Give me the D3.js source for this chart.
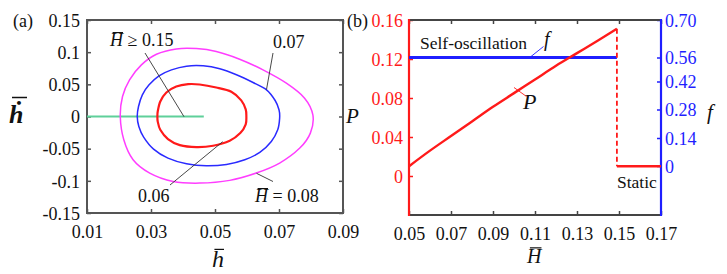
<!DOCTYPE html>
<html>
<head>
<meta charset="utf-8">
<script src="https://cdn.jsdelivr.net/npm/d3@7"></script>
<style>
body { margin: 0; background: #fff; }
</style>
</head>
<body>
<div id="chart"></div>
<script>
// ---- panel (a): phase trajectories [h, hdot] ----
var loop006 = [[0.0320,0],[0.0321,0.0078],[0.0329,0.0233],[0.0348,0.0373],[0.0379,0.0466],[0.0416,0.0503],
  [0.0452,0.0497],[0.0504,0.0450],[0.0551,0.0385],[0.0582,0.0250],[0.0596,0.0110],[0.0598,0],
  [0.0596,-0.0121],[0.0579,-0.0258],[0.0546,-0.0377],[0.0494,-0.0455],[0.0442,-0.0476],[0.0390,-0.0445],
  [0.0353,-0.0351],[0.0329,-0.0207],[0.0321,-0.0077]];
var loop007 = [[0.0257,0],[0.0261,0.0156],[0.0273,0.0337],[0.0294,0.0492],[0.0325,0.0632],[0.0364,0.0725],
  [0.0411,0.0782],[0.0463,0.0787],[0.0515,0.0741],[0.0567,0.0648],[0.0619,0.0528],[0.0661,0.0415],
  [0.0688,0.0249],[0.0700,0.0104],[0.0702,-0.0025],[0.0696,-0.0207],[0.0676,-0.0388],[0.0640,-0.0558],
  [0.0593,-0.0672],[0.0536,-0.0745],[0.0473,-0.0766],[0.0411,-0.0735],[0.0353,-0.0647],[0.0308,-0.0507],
  [0.0277,-0.0320],[0.0262,-0.0155]];
var loop008 = [[0.0204,0],[0.0211,0.0311],[0.0233,0.0570],[0.0270,0.0803],[0.0317,0.0968],[0.0379,0.1051],
  [0.0442,0.1056],[0.0504,0.1010],[0.0577,0.0891],[0.0650,0.0725],[0.0723,0.0518],[0.0780,0.0285],
  [0.0806,0.0020],[0.0798,-0.0258],[0.0765,-0.0491],[0.0702,-0.0724],[0.0629,-0.0879],[0.0546,-0.0993],
  [0.0452,-0.1035],[0.0369,-0.1009],[0.0296,-0.0879],[0.0244,-0.0672],[0.0215,-0.0362]];
var staticA = [[0.01,0],[0.0465,0]];
var xTicksA = [0.01,0.03,0.05,0.07,0.09];
var yTicksA = [-0.15,-0.1,-0.05,0,0.05,0.1,0.15];

// ---- panel (b): power P and frequency f vs H ----
var Hbar = [0.05,0.06,0.07,0.08,0.09,0.10,0.11,0.12,0.13,0.14,0.149];
var Pval = [0.010,0.026,0.041,0.056,0.071,0.085,0.099,0.113,0.126,0.139,0.151];
var fOsc = [[0.05,0.56],[0.149,0.56]];
var Pstatic = [[0.149,0.01],[0.17,0.01]];
var Pjump = [[0.149,0.151],[0.149,0.01]];
var xTicksB = [0.05,0.07,0.09,0.11,0.13,0.15,0.17];
var pTicks = [0,0.04,0.08,0.12,0.16];
var fTicks = [0,0.14,0.28,0.42,0.56,0.70];

var W = 727, H = 274;
var RED = "#ff1a1a", BLUE = "#1f1fff", FRAME = "#555", INK = "#111";
var SERIF = "'Liberation Serif', 'DejaVu Serif', serif";

var svg = d3.select("#chart").append("svg")
  .attr("width", W).attr("height", H)
  .attr("font-family", SERIF)
  .style("font-family", SERIF);

// ================= panel (a) =================
var xA = d3.scaleLinear().domain([0.01,0.09]).range([87,343]);
var yA = d3.scaleLinear().domain([-0.15,0.15]).range([213,20]);
var fmt = function(d) { return d === 0 ? "0" : String(+d.toFixed(2)); };

var gA = svg.append("g");

var axBotA = gA.append("g").attr("transform", "translate(0,213)")
  .call(d3.axisBottom(xA).tickValues(xTicksA).tickFormat(fmt).tickSize(-4).tickPadding(12));
var axTopA = gA.append("g").attr("transform", "translate(0,20)")
  .call(d3.axisTop(xA).tickValues(xTicksA).tickFormat("").tickSize(-4));
var axLeftA = gA.append("g").attr("transform", "translate(87,0)")
  .call(d3.axisLeft(yA).tickValues(yTicksA).tickFormat(fmt).tickSize(-4).tickPadding(7));
var axRightA = gA.append("g").attr("transform", "translate(343,0)")
  .call(d3.axisRight(yA).tickValues(yTicksA).tickFormat("").tickSize(-4));
[axBotA, axTopA, axLeftA, axRightA].forEach(function(a) {
  a.attr("font-family", SERIF);
  a.select(".domain").remove();
  a.selectAll(".tick line").attr("stroke", FRAME).attr("stroke-width", 1.5);
  a.selectAll("text").attr("fill", INK).style("font-size", "18px").style("font-family", SERIF);
});
axLeftA.selectAll("text").attr("dy", "0.35em");

gA.append("rect").attr("x", 87).attr("y", 20).attr("width", 256).attr("height", 193)
  .attr("fill", "none").attr("stroke", FRAME).attr("stroke-width", 2);

var lineA = d3.line().x(function(d) { return xA(d[0]); }).y(function(d) { return yA(d[1]); });
var loopLine = d3.line().x(function(d) { return xA(d[0]); }).y(function(d) { return yA(d[1]); })
  .curve(d3.curveCardinalClosed.tension(0.1));

gA.append("path").datum(staticA).attr("d", lineA).attr("fill", "none")
  .attr("stroke", "#5fd09a").attr("stroke-width", 2);
gA.append("path").datum(loop008).attr("d", loopLine).attr("fill", "none")
  .attr("stroke", "#ff3dff").attr("stroke-width", 1.5);
gA.append("path").datum(loop007).attr("d", loopLine).attr("fill", "none")
  .attr("stroke", "#2a2aff").attr("stroke-width", 1.5);
gA.append("path").datum(loop006).attr("d", loopLine).attr("fill", "none")
  .attr("stroke", RED).attr("stroke-width", 2.2);

// leader lines
function leader(g, x1, y1, x2, y2, color) {
  g.append("line").attr("x1", x1).attr("y1", y1).attr("x2", x2).attr("y2", y2)
    .attr("stroke", color || "#333").attr("stroke-width", 0.9);
}
leader(gA, 145, 53, 184, 116.7);
leader(gA, 273, 53, 266.5, 89.5);
leader(gA, 170, 185, 222.7, 141.7);
leader(gA, 273, 181.5, 256.5, 173.3);

function label(g, x, y, txt, size, italic) {
  return g.append("text").attr("x", x).attr("y", y).attr("fill", INK)
    .style("font-family", SERIF).style("font-size", size + "px")
    .style("font-style", italic ? "italic" : "normal").text(txt);
}

// text with overbar on an italic letter
function barLabel(g, x, y, letter, rest, size) {
  var t = g.append("text").attr("x", x).attr("y", y).attr("fill", INK)
    .style("font-family", SERIF).style("font-size", size + "px");
  t.append("tspan").style("font-style", "italic").text(letter);
  if (rest) t.append("tspan").text(rest);
  var b = t.node().getExtentOfChar(0);
  g.append("line").attr("x1", b.x + b.width * 0.2).attr("x2", b.x + b.width * 1.0)
    .attr("y1", b.y + b.height * 0.13).attr("y2", b.y + b.height * 0.13)
    .attr("stroke", INK).attr("stroke-width", 1.2);
  return t;
}

barLabel(gA, 110, 46, "H", " \u2265 0.15", 18);
label(gA, 273, 48, "0.07", 18);
label(gA, 138, 202, "0.06", 18);
barLabel(gA, 255, 202, "H", " = 0.08", 18);

// axis titles
label(gA, 13, 27, "(a)", 18);
barLabel(gA, 212, 267, "h", null, 24);
label(gA, 9, 123, "\u1e23", 26, true).style("font-weight", "bold");
gA.append("line").attr("x1", 12).attr("x2", 27).attr("y1", 97.5).attr("y2", 97.5)
  .attr("stroke", INK).attr("stroke-width", 1.5);

// ================= panel (b) =================
var xB = d3.scaleLinear().domain([0.05,0.17]).range([409,661]);
var yP = d3.scaleLinear().domain([-0.04,0.16]).range([215,20]);
var yF = d3.scaleLinear().domain([-0.245,0,0.14,0.28,0.42,0.56,0.70])
  .range([215,166,138,109.5,81.5,57.5,20]);

var gB = svg.append("g");

var axBotB = gB.append("g").attr("transform", "translate(0,215)")
  .call(d3.axisBottom(xB).tickValues(xTicksB).tickFormat(function(d) { return d.toFixed(2); })
    .tickSize(-4).tickPadding(12));
var axTopB = gB.append("g").attr("transform", "translate(0,20)")
  .call(d3.axisTop(xB).tickValues(xTicksB).tickFormat("").tickSize(-4));
var axLeftB = gB.append("g").attr("transform", "translate(409,0)")
  .call(d3.axisLeft(yP).tickValues(pTicks).tickFormat(fmt).tickSize(-4).tickPadding(6));
var axRightB = gB.append("g").attr("transform", "translate(661,0)")
  .call(d3.axisRight(yF).tickValues(fTicks)
    .tickFormat(function(d) { return d === 0 ? "0" : d.toFixed(2); }).tickSize(-4).tickPadding(4));
[axBotB, axTopB, axLeftB, axRightB].forEach(function(a) {
  a.attr("font-family", SERIF);
  a.select(".domain").remove();
  a.selectAll("text").style("font-size", "18px").style("font-family", SERIF);
});
axBotB.selectAll(".tick line").attr("stroke", "#444").attr("stroke-width", 1.5);
axTopB.selectAll(".tick line").attr("stroke", "#444").attr("stroke-width", 1.5);
axBotB.selectAll("text").attr("fill", INK);
axLeftB.selectAll(".tick line").attr("stroke", RED).attr("stroke-width", 1.5);
axLeftB.selectAll("text").attr("fill", RED).attr("dy", "0.35em");
axRightB.selectAll(".tick line").attr("stroke", BLUE).attr("stroke-width", 1.5);
axRightB.selectAll("text").attr("fill", BLUE).attr("dy", "0.35em");

// frame
gB.append("line").attr("x1", 409).attr("x2", 661).attr("y1", 20).attr("y2", 20)
  .attr("stroke", "#444").attr("stroke-width", 2);
gB.append("line").attr("x1", 409).attr("x2", 661).attr("y1", 215).attr("y2", 215)
  .attr("stroke", "#444").attr("stroke-width", 2);
gB.append("line").attr("x1", 409).attr("x2", 409).attr("y1", 19).attr("y2", 216)
  .attr("stroke", RED).attr("stroke-width", 2.2);
gB.append("line").attr("x1", 661).attr("x2", 661).attr("y1", 19).attr("y2", 216)
  .attr("stroke", BLUE).attr("stroke-width", 2.2);

var pLine = d3.line().x(function(d) { return xB(d[0]); }).y(function(d) { return yP(d[1]); });
var fLine = d3.line().x(function(d) { return xB(d[0]); }).y(function(d) { return yF(d[1]); });

gB.append("path").datum(fOsc).attr("d", fLine).attr("fill", "none")
  .attr("stroke", BLUE).attr("stroke-width", 3);
gB.append("path").datum(d3.zip(Hbar, Pval)).attr("d", pLine.curve(d3.curveMonotoneX)).attr("fill", "none")
  .attr("stroke", RED).attr("stroke-width", 2.4);
pLine.curve(d3.curveLinear);
gB.append("path").datum(Pjump).attr("d", pLine).attr("fill", "none")
  .attr("stroke", RED).attr("stroke-width", 1.8).attr("stroke-dasharray", "5,3");
gB.append("path").datum(Pstatic).attr("d", pLine).attr("fill", "none")
  .attr("stroke", RED).attr("stroke-width", 2.4);

// labels
leader(gB, 530, 57.3, 543.5, 46.5, BLUE);
leader(gB, 514, 87.5, 526.5, 96.5, RED);
label(gB, 420, 49, "Self-oscillation", 17.5);
label(gB, 544, 46, "f", 20, true);
label(gB, 523, 109, "P", 22, true);
label(gB, 617, 188, "Static", 17.5);
label(gB, 347, 27, "(b)", 18);
label(gB, 346, 123, "P", 21, true);
label(gB, 707, 119, "f", 21, true);
barLabel(gB, 527, 263, "H", null, 20);
</script>
</body>
</html>
